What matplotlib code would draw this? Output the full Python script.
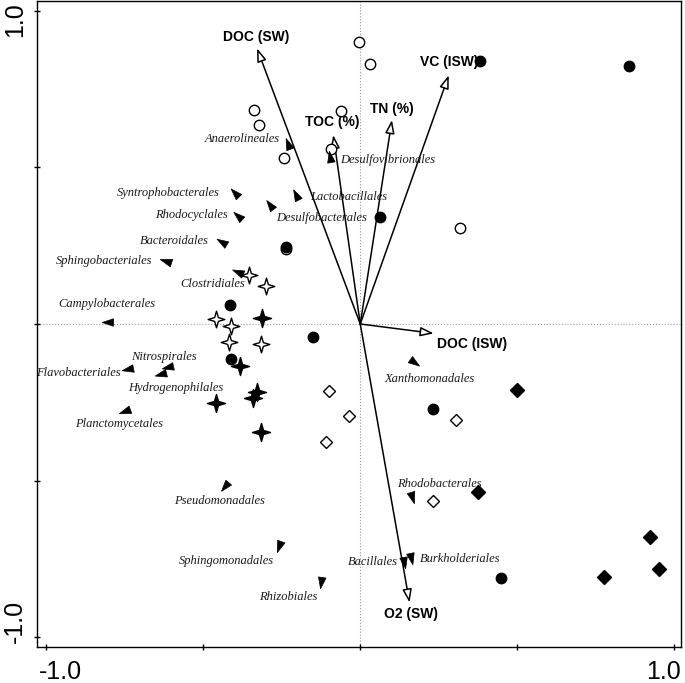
import numpy as np
import matplotlib
matplotlib.use('Agg')
import matplotlib.pyplot as plt
from matplotlib.path import Path

# sample scores
open_circ_x = [-0.005, 0.030, -0.338, -0.324, -0.062, -0.243, -0.093, -0.237, 0.317]
open_circ_y = [0.900, 0.829, 0.683, 0.634, 0.680, 0.530, 0.557, 0.238, 0.305]
fill_circ_x = [0.380, 0.856, 0.062, -0.237, -0.415, -0.151, -0.411, 0.232, 0.447]
fill_circ_y = [0.840, 0.823, 0.340, 0.247, 0.061, -0.042, -0.113, -0.272, -0.811]
open_diam_x = [-0.098, -0.035, -0.109, 0.304, 0.232]
open_diam_y = [-0.213, -0.293, -0.377, -0.306, -0.565]
fill_diam_x = [0.500, 0.374, 0.923, 0.776, 0.952]
fill_diam_y = [-0.211, -0.535, -0.680, -0.808, -0.782]
open_star_x = [-0.353, -0.300, -0.459, -0.412, -0.417, -0.316]
open_star_y = [0.156, 0.122, 0.015, -0.005, -0.056, -0.064]
fill_star_x = [-0.314, -0.383, -0.328, -0.342, -0.459, -0.317]
fill_star_y = [0.020, -0.134, -0.216, -0.237, -0.251, -0.344]

# environmental variables
env_names = ['DOC (SW)', 'TOC (%)', 'TN (%)', 'VC (ISW)', 'DOC (ISW)', 'O2 (SW)']
env_x = [-0.329, -0.086, 0.101, 0.282, 0.234, 0.157]
env_y = [0.880, 0.603, 0.651, 0.794, -0.030, -0.889]

# species (orders)
spp_names = ['Anaerolineales', 'Desulfovibrionales', 'Syntrophobacterales', 'Lactobacillales',
             'Desulfobacterales', 'Rhodocyclales', 'Bacteroidales', 'Sphingobacteriales',
             'Clostridiales', 'Campylobacterales', 'Nitrospirales', 'Flavobacteriales',
             'Hydrogenophilales', 'Planctomycetales', 'Xanthomonadales', 'Pseudomonadales',
             'Rhodobacterales', 'Sphingomonadales', 'Bacillales', 'Burkholderiales', 'Rhizobiales']
spp_x = [-0.231, -0.096, -0.399, -0.205, -0.287, -0.388, -0.441, -0.619, -0.391, -0.803,
         -0.611, -0.739, -0.635, -0.750, 0.170, -0.431, 0.165, -0.258, 0.138, 0.162, -0.125]
spp_y = [0.576, 0.534, 0.417, 0.411, 0.380, 0.345, 0.263, 0.202, 0.167, 0.005,
         -0.136, -0.145, -0.159, -0.277, -0.120, -0.516, -0.551, -0.708, -0.759, -0.747, -0.822]

# label placement (offset in pixels, alignment)
spp_lab = [(-8, 5, 'right'), (10, -3, 'left'), (-15, 0, 'right'), (14, -2, 'left'),
           (6, -13, 'left'), (-11, 1, 'right'), (-13, 1, 'right'), (-14, 0, 'right'),
           (8, -12, 'right'), (-1, 18, 'center'), (-5, 10, 'center'), (-8, -4, 'right'),
           (15, -14, 'center'), (-6, -13, 'center'), (16, -17, 'center'), (-5, -15, 'center'),
           (27, 13, 'center'), (-5, -15, 'right'), (-6, 0, 'right'), (9, -1, 'left'),
           (-4, -15, 'right')]
env_lab = [(-1, 11, 'center'), (-1, 13, 'center'), (0, 11, 'center'), (0, 13, 'center'),
           (3, -11, 'left'), (1, -11, 'center')]

# 4-point star marker
ang = np.arange(8) * np.pi / 4 + np.pi / 2
rad = np.where(np.arange(8) % 2 == 0, 1.0, 0.32)
star = Path(np.column_stack([rad * np.cos(ang), rad * np.sin(ang)]).tolist()
            + [[0, 1]], closed=True)

fig = plt.figure(figsize=(6.85, 6.83), dpi=100)
ax = fig.add_axes([37 / 685, 1 - 647 / 683, 644 / 685, 646 / 683])
ax.set_xlim(-1.03, 1.022)
ax.set_ylim(-1.031, 1.031)

ax.axhline(0, color='0.6', lw=0.8, ls=':', zorder=1)
ax.axvline(0, color='0.6', lw=0.8, ls=':', zorder=1)

ax.plot(open_circ_x, open_circ_y, 'o', ms=7.5, mfc='white', mec='black', mew=1.0, zorder=3)
ax.plot(fill_circ_x, fill_circ_y, 'o', ms=7.5, mfc='black', mec='black', zorder=3)
ax.plot(open_diam_x, open_diam_y, 'D', ms=6, mfc='white', mec='black', mew=1.0, zorder=3)
ax.plot(fill_diam_x, fill_diam_y, 'D', ms=7, mfc='black', mec='black', zorder=3)
ax.plot(open_star_x, open_star_y, marker=star, ls='none', ms=12, mfc='white', mec='black',
        mew=1.0, zorder=3)
ax.plot(fill_star_x, fill_star_y, marker=star, ls='none', ms=13, mfc='black', mec='black',
        zorder=3)

for name, x, y, (dx, dy, ha) in zip(env_names, env_x, env_y, env_lab):
    ax.annotate('', xy=(x, y), xytext=(0, 0),
                arrowprops=dict(arrowstyle='-|>,head_length=0.8,head_width=0.28',
                                mutation_scale=10, fc='white', ec='black', lw=1.1,
                                shrinkA=0, shrinkB=0), zorder=2)
    ax.annotate(name, xy=(x, y), xytext=(dx, dy), textcoords='offset pixels',
                ha=ha, va='center', fontsize=10, fontweight='bold',
                family=['Liberation Sans', 'DejaVu Sans'], zorder=2)

for name, x, y, (dx, dy, ha) in zip(spp_names, spp_x, spp_y, spp_lab):
    a = np.arctan2(y, x)
    tri = np.array([[1, 0], [-0.8, 0.6], [-0.8, -0.6], [1, 0]])
    rot = np.array([[np.cos(a), -np.sin(a)], [np.sin(a), np.cos(a)]])
    ax.plot([x], [y], marker=Path(tri @ rot.T, closed=True), ls='none', ms=9,
            mfc='black', mec='black', mew=0.5, zorder=3)
    ax.annotate(name, xy=(x, y), xytext=(dx, dy), textcoords='offset pixels',
                ha=ha, va='center', fontsize=9, style='italic', color='#1a1a1a',
                family=['Liberation Serif', 'DejaVu Serif'], zorder=2)

ticks = [-1.0, -0.5, 0.0, 0.5, 1.0]
ax.set_xticks(ticks)
ax.set_yticks(ticks)
ax.set_xticklabels([])
ax.set_yticklabels([])
ax.tick_params(direction='inout', length=5, width=1.0)
for s in ax.spines.values():
    s.set_linewidth(1.0)

tf = dict(fontsize=18, family=['Liberation Sans', 'DejaVu Sans'])
fig.text(60 / 685, 1 - 672 / 683, '-1.0', ha='center', va='center', **tf)
fig.text(663 / 685, 1 - 672 / 683, '1.0', ha='center', va='center', **tf)
fig.text(15 / 685, 1 - 20 / 683, '1.0', ha='center', va='center', rotation=90, **tf)
fig.text(15 / 685, 1 - 621 / 683, '-1.0', ha='center', va='center', rotation=90, **tf)

fig.savefig('out.png', dpi=100)
